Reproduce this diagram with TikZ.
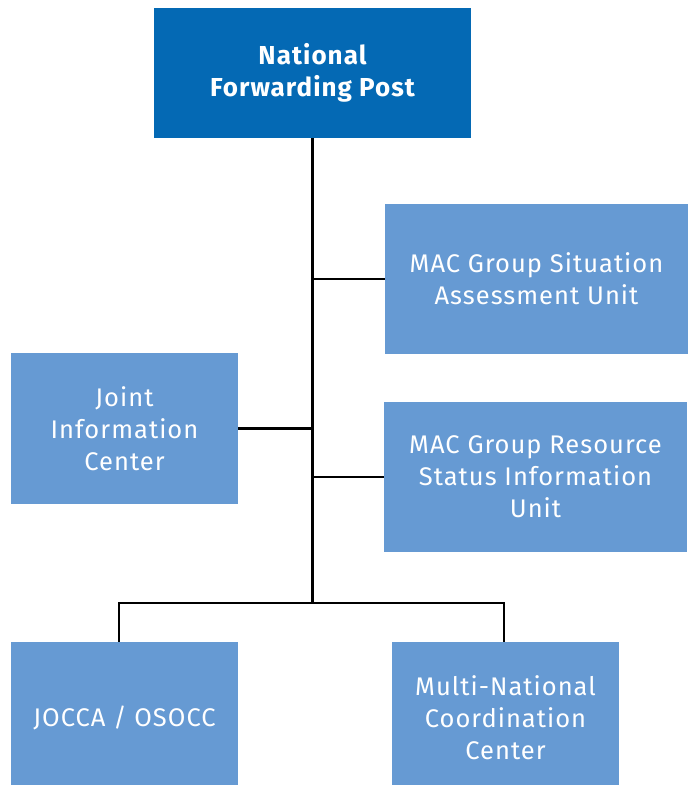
\documentclass[tikz,border=0pt]{standalone}
\usepackage{fontspec}
\setmainfont{Fira Sans}[LetterSpace=4]
\usepackage{xcolor}
\usepackage{tikz}
\usetikzlibrary{positioning,calc}

\definecolor{postblue}{HTML}{0469B4}
\definecolor{unitblue}{HTML}{669AD3}

\begin{document}
\begin{tikzpicture}[x=1pt, y=-1pt,
  every node/.style={align=center, font=\fontsize{25.5}{32}\selectfont, text=white, inner sep=0pt},
  unit/.style={fill=unitblue, minimum width=227pt, minimum height=151pt},
  wideunit/.style={unit, minimum width=303pt, minimum height=150pt},
  post/.style={fill=postblue, minimum width=317pt, minimum height=130pt, font=\fontsize{26}{32}\selectfont\bfseries},
  link/.style={draw=black, line width=2.2pt}
]
  \useasboundingbox (0,0) rectangle (693,785);

  \node[post] (nfp) at (312.5,73) {National\\Forwarding Post};
  \node[wideunit] (sit) at (536.5,279) {MAC Group Situation\\Assessment Unit};
  \node[unit] (jic) at (124.5,428.5) {Joint\\Information\\Center};
  \node[wideunit] (res) at (535.5,477) {MAC Group Resource\\Status Information\\Unit};
  % bottom row runs off the lower edge
  \node[unit] (jocca) at (124.5,717.5) {JOCCA / OSOCC};
  \node[unit] (mnc) at (505.5,717.5) {Multi-National\\Coordination\\Center};

  \coordinate (bus) at (nfp.south |- 0,603);

  % trunk and side branches
  \draw[link] (nfp.south) -- (bus);
  \draw[link] (sit.west) -- (sit.west -| nfp.south);
  \draw[link] (jic.east) -- (jic.east -| nfp.south);
  \draw[link] (res.west) -- (res.west -| nfp.south);
  % bottom bus
  \draw[link] ([xshift=-5.5pt]jocca.north) |- (bus) -| ([xshift=-1.5pt]mnc.north);
\end{tikzpicture}
\end{document}
